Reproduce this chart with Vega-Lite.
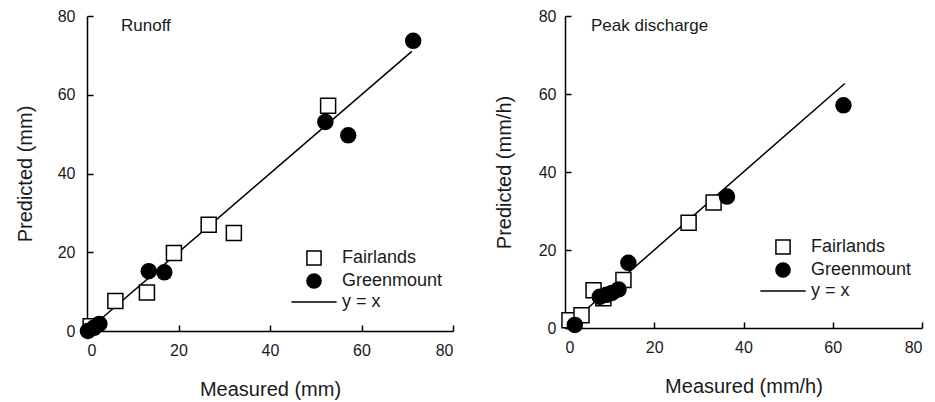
{
  "$schema": "https://vega.github.io/schema/vega-lite/v6.json",
  "background": "white",
  "padding": {"left": 15, "top": 8, "right": 5, "bottom": 5},
  "config": {
    "font": "Liberation Sans",
    "view": {"stroke": null},
    "concat": {"spacing": 40},
    "axis": {
      "grid": false,
      "domainColor": "black",
      "domainWidth": 1.5,
      "labelFontSize": 16,
      "labelColor": "#1a1a1a",
      "titleFontSize": 20,
      "titleFontWeight": "normal",
      "titleColor": "#1a1a1a"
    },
    "legend": {
      "orient": "none",
      "title": null,
      "padding": 0,
      "labelFontSize": 18,
      "labelColor": "#1a1a1a",
      "labelOffset": 19,
      "rowPadding": 1,
      "symbolSize": 200,
      "symbolStrokeColor": "black",
      "symbolStrokeWidth": 1.5
    },
    "title": {
      "frame": "group",
      "anchor": "start",
      "baseline": "top",
      "fontSize": 17,
      "fontWeight": "normal",
      "color": "#1a1a1a",
      "offset": -27
    }
  },
  "datasets": {
    "runoff": [
      {"measured": 0.8, "predicted": 1.2, "site": "Fairlands"},
      {"measured": 6.2, "predicted": 7.6, "site": "Fairlands"},
      {"measured": 13.1, "predicted": 9.8, "site": "Fairlands"},
      {"measured": 19.0, "predicted": 19.8, "site": "Fairlands"},
      {"measured": 26.6, "predicted": 27.0, "site": "Fairlands"},
      {"measured": 32.1, "predicted": 24.9, "site": "Fairlands"},
      {"measured": 52.7, "predicted": 57.2, "site": "Fairlands"},
      {"measured": 0.2, "predicted": 0.0, "site": "Greenmount"},
      {"measured": 1.5, "predicted": 0.8, "site": "Greenmount"},
      {"measured": 2.7, "predicted": 1.8, "site": "Greenmount"},
      {"measured": 13.5, "predicted": 15.2, "site": "Greenmount"},
      {"measured": 16.9, "predicted": 14.9, "site": "Greenmount"},
      {"measured": 52.1, "predicted": 53.1, "site": "Greenmount"},
      {"measured": 57.1, "predicted": 49.7, "site": "Greenmount"},
      {"measured": 71.3, "predicted": 73.7, "site": "Greenmount"}
    ],
    "runoffLine": [
      {"measured": 0, "predicted": 0},
      {"measured": 71, "predicted": 71}
    ],
    "peak": [
      {"measured": 1.0, "predicted": 2.0, "site": "Fairlands"},
      {"measured": 3.7, "predicted": 3.3, "site": "Fairlands"},
      {"measured": 6.4, "predicted": 9.7, "site": "Fairlands"},
      {"measured": 8.6, "predicted": 7.6, "site": "Fairlands"},
      {"measured": 13.1, "predicted": 12.3, "site": "Fairlands"},
      {"measured": 27.7, "predicted": 27.0, "site": "Fairlands"},
      {"measured": 33.3, "predicted": 32.2, "site": "Fairlands"},
      {"measured": 2.2, "predicted": 0.8, "site": "Greenmount"},
      {"measured": 7.8, "predicted": 8.0, "site": "Greenmount"},
      {"measured": 9.3, "predicted": 8.5, "site": "Greenmount"},
      {"measured": 10.5, "predicted": 9.0, "site": "Greenmount"},
      {"measured": 12.0, "predicted": 9.9, "site": "Greenmount"},
      {"measured": 14.2, "predicted": 16.7, "site": "Greenmount"},
      {"measured": 36.3, "predicted": 33.7, "site": "Greenmount"},
      {"measured": 62.4, "predicted": 57.1, "site": "Greenmount"}
    ],
    "peakLine": [
      {"measured": 0, "predicted": 0},
      {"measured": 62.7, "predicted": 62.7}
    ]
  },
  "hconcat": [
    {
      "width": 366,
      "height": 315,
      "title": {"text": "Runoff", "dx": 34},
      "layer": [
        {
          "data": {"name": "runoffLine"},
          "mark": {"type": "line", "color": "black", "strokeWidth": 1.5},
          "encoding": {
            "x": {
              "field": "measured", "type": "quantitative", "scale": {"domain": [0, 80]}, "title": "Measured (mm)",
              "axis": {"values": [0, 20, 40, 60, 80], "ticks": true, "tickSize": -6, "tickColor": "black", "tickWidth": 1.5, "labelPadding": 17, "titlePadding": 21}
            },
            "y": {
              "field": "predicted", "type": "quantitative", "scale": {"domain": [0, 80]}, "title": "Predicted (mm)",
              "axis": {"values": [0, 20, 40, 60, 80], "ticks": true, "tickSize": -6, "tickColor": "black", "tickWidth": 1.5, "labelPadding": 18, "titlePadding": 22}
            }
          }
        },
        {
          "data": {"name": "runoff"},
          "mark": {"type": "point", "filled": true, "size": 225, "strokeWidth": 1.5, "opacity": 1},
          "encoding": {
            "x": {"field": "measured", "type": "quantitative"},
            "y": {"field": "predicted", "type": "quantitative"},
            "shape": {
              "field": "site", "type": "nominal",
              "scale": {"domain": ["Fairlands", "Greenmount", "y = x"], "range": ["square", "circle", "M-3.2,0L3.2,0"]},
              "legend": {"legendX": 218, "legendY": 233}
            },
            "fill": {
              "field": "site", "type": "nominal",
              "scale": {"domain": ["Fairlands", "Greenmount", "y = x"], "range": ["white", "black", "transparent"]}
            },
            "stroke": {
              "field": "site", "type": "nominal",
              "scale": {"domain": ["Fairlands", "Greenmount", "y = x"], "range": ["black", "black", "black"]}
            }
          }
        }
      ]
    },
    {
      "width": 357,
      "height": 312,
      "title": {"text": "Peak discharge", "dx": 26},
      "layer": [
        {
          "data": {"name": "peakLine"},
          "mark": {"type": "line", "color": "black", "strokeWidth": 1.5},
          "encoding": {
            "x": {
              "field": "measured", "type": "quantitative", "scale": {"domain": [0, 80]}, "title": "Measured (mm/h)",
              "axis": {"values": [0, 20, 40, 60, 80], "ticks": true, "tickSize": -6, "tickColor": "black", "tickWidth": 1.5, "labelPadding": 17, "titlePadding": 21}
            },
            "y": {
              "field": "predicted", "type": "quantitative", "scale": {"domain": [0, 80]}, "title": "Predicted (mm/h)",
              "axis": {"values": [0, 20, 40, 60, 80], "ticks": true, "tickSize": -6, "tickColor": "black", "tickWidth": 1.5, "labelPadding": 15, "titlePadding": 24}
            }
          }
        },
        {
          "data": {"name": "peak"},
          "mark": {"type": "point", "filled": true, "size": 225, "strokeWidth": 1.5, "opacity": 1},
          "encoding": {
            "x": {"field": "measured", "type": "quantitative"},
            "y": {"field": "predicted", "type": "quantitative"},
            "shape": {
              "field": "site", "type": "nominal",
              "scale": {"domain": ["Fairlands", "Greenmount", "y = x"], "range": ["square", "circle", "M-3.2,0L3.2,0"]},
              "legend": {"legendX": 209, "legendY": 222}
            },
            "fill": {
              "field": "site", "type": "nominal",
              "scale": {"domain": ["Fairlands", "Greenmount", "y = x"], "range": ["white", "black", "transparent"]}
            },
            "stroke": {
              "field": "site", "type": "nominal",
              "scale": {"domain": ["Fairlands", "Greenmount", "y = x"], "range": ["black", "black", "black"]}
            }
          }
        }
      ]
    }
  ],
  "resolve": {"scale": {"shape": "independent", "fill": "independent", "stroke": "independent"}}
}
